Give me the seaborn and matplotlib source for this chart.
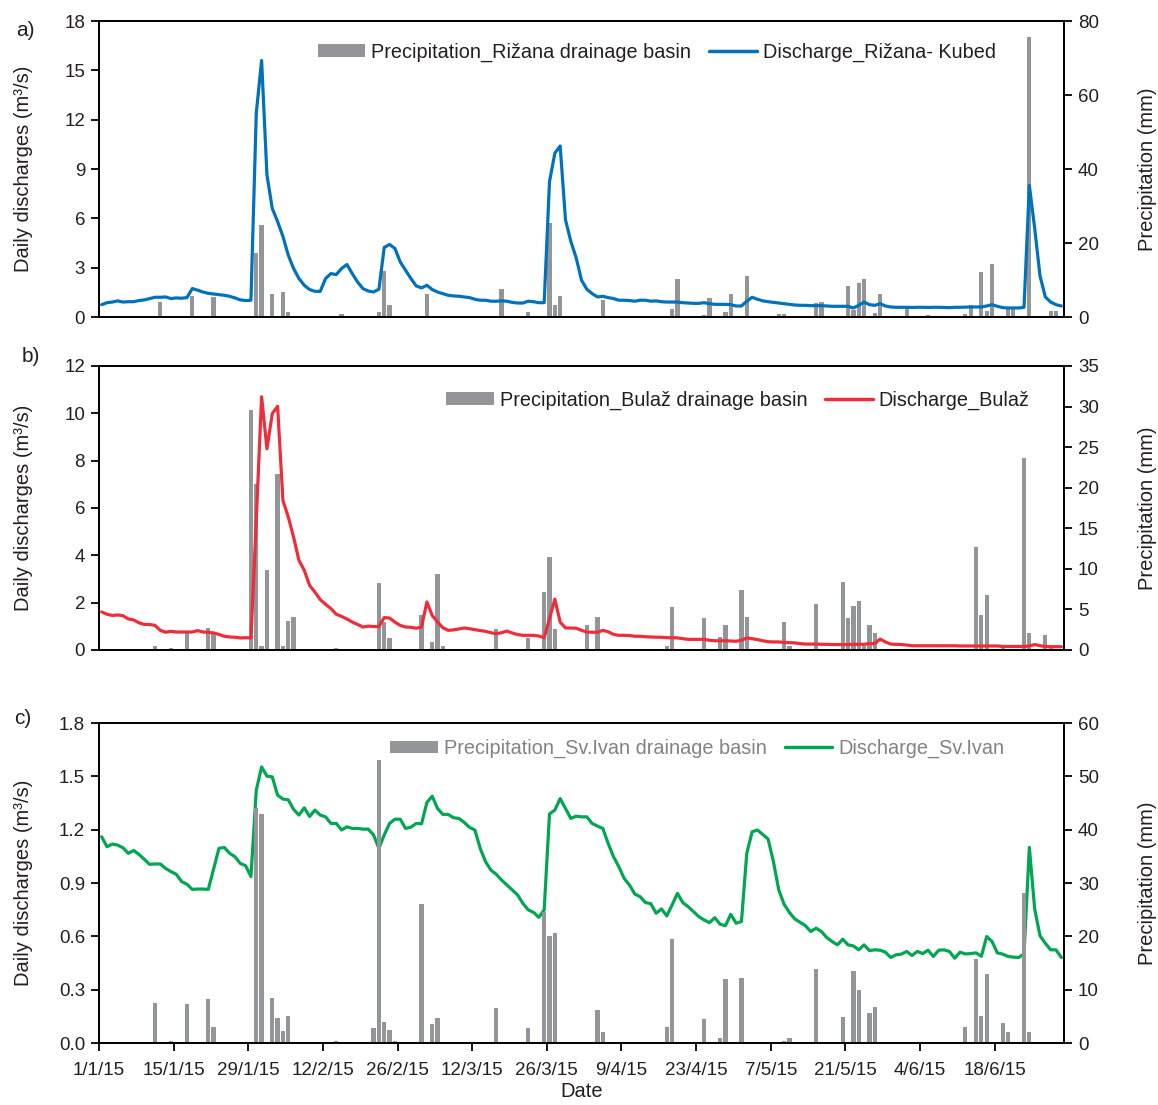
import numpy as np
import pandas as pd
import matplotlib
matplotlib.use('Agg')
import matplotlib.pyplot as plt
from matplotlib.patches import Patch
from matplotlib.lines import Line2D
from matplotlib.ticker import FormatStrFormatter
import seaborn as sns

sns.set_theme(style='ticks')
plt.rcParams['font.family'] = ['Liberation Sans', 'DejaVu Sans']

# daily discharges 1/1/15 - 30/6/15 (m3/s)
q_rizana = [0.75, 0.87, 0.91, 0.98, 0.91, 0.93, 0.93, 1.0, 1.04, 1.12,
            1.2, 1.2, 1.22, 1.12, 1.16, 1.14, 1.18, 1.73, 1.63, 1.52,
            1.44, 1.40, 1.36, 1.32, 1.26, 1.16, 1.04, 1.0, 1.02, 12.4,
            15.6, 8.64, 6.6, 5.8, 4.9, 3.76, 2.95, 2.34, 1.93, 1.67,
            1.56, 1.56, 2.34, 2.64, 2.58, 2.95, 3.19, 2.64, 2.13, 1.73,
            1.58, 1.52, 1.69, 4.23, 4.41, 4.17, 3.35, 2.85, 2.34, 1.89,
            1.77, 1.93, 1.67, 1.52, 1.42, 1.32, 1.28, 1.26, 1.22, 1.18,
            1.08, 1.02, 1.02, 0.96, 0.96, 0.98, 0.96, 0.89, 0.85, 0.85,
            0.96, 0.93, 0.87, 0.87, 8.23, 9.96, 10.4, 5.9, 4.6, 3.6,
            2.24, 1.69, 1.42, 1.22, 1.26, 1.18, 1.12, 1.02, 1.02, 1.0,
            0.96, 1.02, 1.02, 0.96, 0.98, 0.93, 0.91, 0.91, 0.91, 0.87,
            0.85, 0.83, 0.83, 0.87, 0.81, 0.77, 0.77, 0.77, 0.75, 0.67,
            0.67, 0.96, 1.2, 1.08, 0.98, 0.93, 0.89, 0.85, 0.81, 0.77,
            0.73, 0.71, 0.71, 0.69, 0.69, 0.69, 0.67, 0.65, 0.65, 0.65,
            0.65, 0.55, 0.71, 0.91, 0.75, 0.71, 0.81, 0.67, 0.61, 0.59,
            0.59, 0.59, 0.58, 0.59, 0.59, 0.58, 0.59, 0.59, 0.58, 0.57,
            0.59, 0.59, 0.60, 0.61, 0.61, 0.61, 0.67, 0.75, 0.65, 0.57,
            0.55, 0.55, 0.55, 0.59, 8.0, 5.4, 2.5, 1.22, 0.91, 0.75, 0.67]

q_bulaz = [1.61, 1.51, 1.46, 1.48, 1.45, 1.31, 1.27, 1.15, 1.08, 1.08,
           1.04, 0.83, 0.75, 0.79, 0.76, 0.76, 0.76, 0.76, 0.82, 0.76,
           0.75, 0.72, 0.66, 0.58, 0.55, 0.54, 0.51, 0.52, 0.51, 5.5,
           10.7, 8.5, 9.99, 10.3, 6.32, 5.62, 4.77, 3.79, 3.37, 2.73,
           2.45, 2.13, 1.93, 1.75, 1.51, 1.42, 1.31, 1.18, 1.08, 0.97,
           1.01, 0.99, 0.99, 1.37, 1.35, 1.18, 1.04, 0.97, 0.96, 0.92,
           0.97, 2.03, 1.46, 1.18, 0.94, 0.83, 0.85, 0.89, 0.93, 0.9,
           0.86, 0.82, 0.79, 0.73, 0.69, 0.73, 0.8, 0.72, 0.65, 0.62,
           0.62, 0.62, 0.59, 0.52, 1.32, 2.15, 1.18, 0.93, 0.93, 0.92,
           0.83, 0.76, 0.75, 0.75, 0.83, 0.77, 0.66, 0.62, 0.62, 0.61,
           0.58, 0.58, 0.56, 0.55, 0.54, 0.54, 0.52, 0.52, 0.51, 0.48,
           0.45, 0.45, 0.45, 0.45, 0.41, 0.39, 0.39, 0.39, 0.38, 0.37,
           0.41, 0.51, 0.48, 0.44, 0.39, 0.35, 0.34, 0.34, 0.32, 0.31,
           0.3, 0.27, 0.25, 0.25, 0.25, 0.24, 0.24, 0.23, 0.23, 0.23,
           0.23, 0.24, 0.24, 0.24, 0.27, 0.27, 0.46, 0.34, 0.25, 0.24,
           0.23, 0.21, 0.18, 0.18, 0.18, 0.18, 0.18, 0.18, 0.18, 0.18,
           0.18, 0.17, 0.17, 0.17, 0.17, 0.17, 0.17, 0.17, 0.17, 0.15,
           0.15, 0.15, 0.15, 0.15, 0.17, 0.23, 0.18, 0.15, 0.14, 0.14, 0.14]

q_ivan = [1.160, 1.104, 1.119, 1.113, 1.098, 1.067, 1.083, 1.061, 1.033, 1.005,
          1.007, 1.007, 0.982, 0.964, 0.949, 0.908, 0.893, 0.864, 0.866, 0.866,
          0.864, 0.979, 1.095, 1.100, 1.067, 1.048, 1.010, 0.997, 0.936, 1.422,
          1.553, 1.501, 1.497, 1.394, 1.372, 1.368, 1.314, 1.282, 1.323, 1.274,
          1.310, 1.282, 1.272, 1.235, 1.235, 1.198, 1.216, 1.207, 1.207, 1.203,
          1.203, 1.170, 1.095, 1.170, 1.235, 1.259, 1.259, 1.207, 1.214, 1.235,
          1.233, 1.353, 1.388, 1.319, 1.286, 1.286, 1.267, 1.263, 1.241, 1.213,
          1.198, 1.095, 1.020, 0.973, 0.949, 0.917, 0.889, 0.861, 0.833, 0.786,
          0.749, 0.735, 0.707, 0.749, 1.289, 1.310, 1.375, 1.319, 1.263, 1.276,
          1.272, 1.272, 1.235, 1.220, 1.207, 1.123, 1.048, 0.992, 0.926, 0.889,
          0.838, 0.823, 0.790, 0.784, 0.730, 0.754, 0.715, 0.777, 0.842, 0.790,
          0.767, 0.739, 0.711, 0.692, 0.677, 0.705, 0.668, 0.660, 0.724, 0.674,
          0.683, 1.067, 1.188, 1.198, 1.173, 1.147, 1.020, 0.861, 0.780, 0.734,
          0.698, 0.679, 0.660, 0.627, 0.646, 0.627, 0.593, 0.571, 0.552, 0.584,
          0.552, 0.546, 0.524, 0.552, 0.520, 0.524, 0.522, 0.511, 0.481, 0.496,
          0.500, 0.515, 0.492, 0.515, 0.503, 0.522, 0.487, 0.522, 0.524, 0.515,
          0.477, 0.511, 0.501, 0.503, 0.507, 0.488, 0.599, 0.571, 0.507, 0.500,
          0.487, 0.483, 0.481, 0.501, 1.100, 0.754, 0.603, 0.561, 0.524, 0.524, 0.481]

# precipitation (day index from 1/1/15, mm); days not listed had no rain
rain_rizana_day = [11, 14, 16, 17, 21, 22, 23, 29, 30, 32, 34, 35, 36, 45, 52, 53, 54, 55,
                   60, 61, 75, 80, 84, 85, 86, 94, 107, 108, 113, 114, 117, 118, 120, 121,
                   127, 128, 130, 134, 135, 140, 141, 142, 143, 145, 146, 151, 155, 162,
                   163, 165, 166, 167, 170, 171, 174, 178, 179]
rain_rizana_mm = [4.1, 0.3, 0.3, 5.6, 5.4, 0.3, 0.3, 17.3, 25.0, 6.1, 6.7, 1.4, 0.3, 0.9,
                  1.3, 12.5, 3.3, 0.3, 0.3, 6.2, 7.5, 1.4, 25.4, 3.2, 5.6, 4.5, 2.1, 10.4,
                  0.6, 5.2, 1.4, 6.3, 0.3, 11.1, 0.7, 0.7, 0.2, 3.9, 4.1, 8.3, 1.8, 9.3,
                  10.4, 1.2, 6.1, 2.4, 0.5, 0.9, 3.3, 12.2, 1.6, 14.4, 2.3, 2.5, 75.8,
                  1.5, 1.5]

rain_bulaz_day = [10, 13, 16, 20, 21, 28, 29, 30, 31, 33, 34, 35, 36, 44, 52, 53, 54, 60,
                  62, 63, 64, 74, 80, 83, 84, 85, 91, 93, 106, 107, 113, 116, 117, 120,
                  121, 128, 129, 134, 139, 140, 141, 142, 143, 144, 145, 164, 165, 166,
                  169, 173, 174, 177, 178]
rain_bulaz_mm = [0.5, 0.3, 2.1, 2.7, 2.0, 29.6, 20.5, 0.5, 9.8, 21.7, 0.5, 3.6, 4.1, 0.2,
                 8.3, 3.4, 1.5, 4.3, 1.0, 9.4, 0.5, 2.6, 1.5, 7.1, 11.4, 2.6, 3.1, 4.1,
                 0.5, 5.3, 4.0, 1.6, 3.1, 7.4, 4.1, 3.4, 0.5, 5.7, 8.4, 3.9, 5.4, 6.0,
                 0.5, 3.1, 2.1, 12.7, 4.3, 6.8, 0.3, 23.7, 2.1, 1.8, 0.3]

rain_ivan_day = [10, 13, 16, 20, 21, 29, 30, 32, 33, 34, 35, 44, 51, 52, 53, 54, 55, 60,
                 62, 63, 74, 80, 83, 84, 85, 93, 94, 106, 107, 113, 116, 117, 120, 128,
                 129, 134, 139, 141, 142, 144, 145, 162, 164, 165, 166, 169, 170, 173, 174]
rain_ivan_mm = [7.5, 0.4, 7.3, 8.2, 3.0, 44.0, 42.9, 8.4, 4.7, 2.2, 5.1, 0.4, 2.8, 53.0,
                3.9, 2.5, 0.4, 26.1, 3.6, 4.6, 6.6, 2.8, 24.6, 20.1, 20.6, 6.1, 2.0, 3.0,
                19.5, 4.5, 0.9, 12.0, 12.2, 0.4, 0.9, 13.9, 4.8, 13.5, 9.9, 5.6, 6.7,
                3.0, 15.8, 5.0, 13.0, 3.7, 2.0, 28.1, 2.1]

date_labels = ['1/1/15', '15/1/15', '29/1/15', '12/2/15', '26/2/15', '12/3/15', '26/3/15',
               '9/4/15', '23/4/15', '7/5/15', '21/5/15', '4/6/15', '18/6/15']

n_days = len(q_rizana)
grey = '#939598'
ink = '#231f20'


def make_df(q, rain_day, rain_mm):
    rain = np.zeros(n_days)
    rain[rain_day] = rain_mm
    return pd.DataFrame({'day': np.arange(n_days) + 0.5, 'q': q, 'rain': rain})


fig = plt.figure(figsize=(11.58, 11.05), dpi=100)
W, H = 1158, 1105


def panel(top, bottom, df, color, qmax, qstep, pmax, pstep, labels, leg_xy, leg_color,
          lines_on_top, letter, letter_xy, fmt=None, show_x=False):
    ax = fig.add_axes([99 / W, 1 - bottom / H, 965 / W, (bottom - top) / H])
    ax2 = ax.twinx()
    sns.barplot(data=df, x='day', y='rain', native_scale=True, color=grey, saturation=1,
                width=0.8, errorbar=None, ax=ax2, linewidth=0)
    sns.lineplot(data=df, x='day', y='q', color=color, lw=2.3, ax=ax)
    if lines_on_top:
        ax.set_zorder(ax2.get_zorder() + 1)
        ax.patch.set_visible(False)
        leg_ax = ax
    else:
        leg_ax = ax2
    ax.set_xlim(0, n_days)
    ax.set_ylim(0, qmax)
    ax.set_yticks(np.arange(0, qmax + qstep / 2, qstep))
    ax2.set_ylim(0, pmax)
    ax2.set_yticks(np.arange(0, pmax + pstep / 2, pstep))
    if fmt:
        ax.yaxis.set_major_formatter(FormatStrFormatter(fmt))
    for a in (ax, ax2):
        for s in a.spines.values():
            s.set_color('black')
            s.set_linewidth(1.3)
        a.tick_params(axis='y', length=6, width=1.3, color='black', labelsize=13.5,
                      labelcolor=ink, pad=4)
    ax.set_ylabel('Daily discharges (m³/s)', fontsize=14.5, color=ink)
    ax.yaxis.set_label_coords(-0.068, 0.5)
    ax2.set_ylabel('Precipitation (mm)', fontsize=14.5, color=ink)
    ax2.yaxis.set_label_coords(1.077, 0.5)
    ax.set_xticks(np.arange(0, n_days - 10, 14))
    if show_x:
        ax.set_xticklabels(date_labels)
        ax.tick_params(axis='x', length=6, width=1.3, color='black', labelsize=13.5,
                       labelcolor=ink, pad=8)
        ax.set_xlabel('Date', fontsize=14.5, color=ink, labelpad=2)
    else:
        ax.tick_params(axis='x', bottom=False, labelbottom=False)
        ax.set_xlabel('')
    ax2.tick_params(axis='x', bottom=False, labelbottom=False)
    ax2.set_xlabel('')
    handles = [Patch(facecolor=grey, edgecolor='none'), Line2D([], [], color=color, lw=2.5)]
    leg_ax.legend(handles, labels, ncol=2, frameon=False, loc='center',
                  bbox_to_anchor=leg_xy, fontsize=14.3, labelcolor=leg_color,
                  handlelength=2.4, handleheight=0.6, handletextpad=0.3,
                  columnspacing=0.9)
    fig.text(letter_xy[0] / W, 1 - letter_xy[1] / H, letter, fontsize=15,
             color=ink, ha='center', va='center')
    return ax


panel(21, 317, make_df(q_rizana, rain_rizana_day, rain_rizana_mm), '#0072bc', 18, 3, 80, 20,
      ['Precipitation_Rižana drainage basin', 'Discharge_Rižana- Kubed'], (0.578, 0.895),
      ink, True, 'a)', (25, 30))
panel(366, 650, make_df(q_bulaz, rain_bulaz_day, rain_bulaz_mm), '#ee2d3a', 12, 2, 35, 5,
      ['Precipitation_Bulaž drainage basin', 'Discharge_Bulaž'], (0.662, 0.88),
      ink, True, 'b)', (31, 357))
panel(723, 1043, make_df(q_ivan, rain_ivan_day, rain_ivan_mm), '#00a651', 1.8, 0.3, 60, 10,
      ['Precipitation_Sv.Ivan drainage basin', 'Discharge_Sv.Ivan'], (0.62, 0.92),
      '#808285', False, 'c)', (23, 718), fmt='%.1f', show_x=True)

fig.savefig('out.png', dpi=100)
